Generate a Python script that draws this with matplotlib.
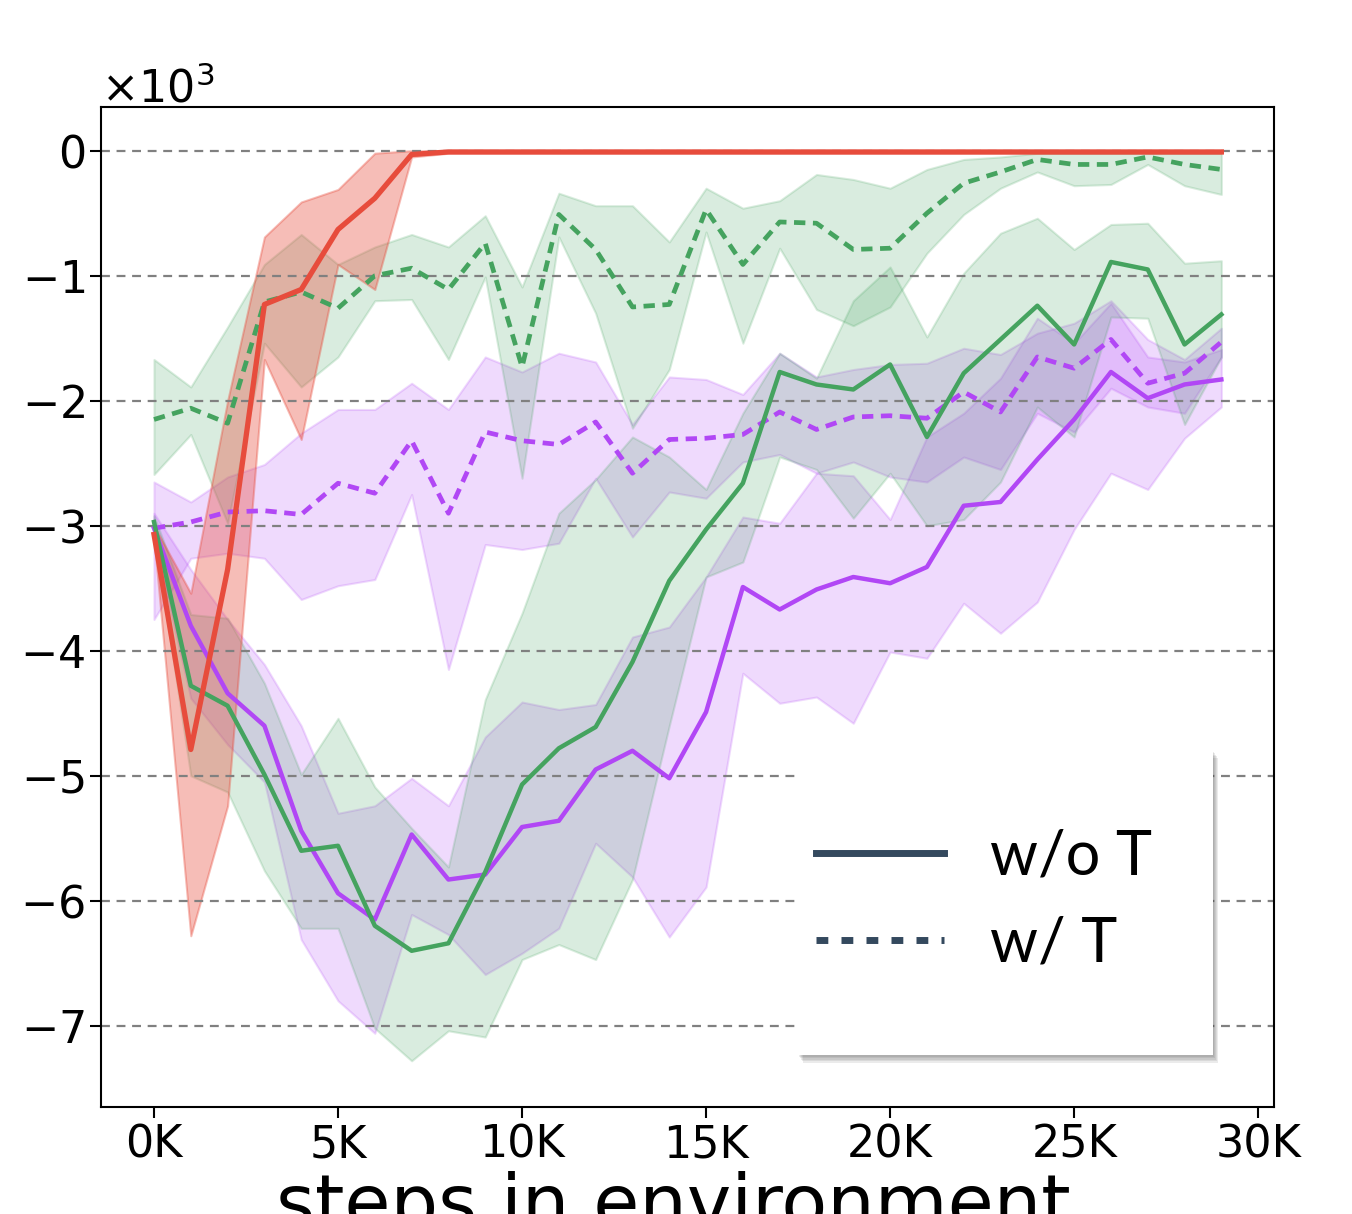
import numpy as np
import matplotlib
matplotlib.use("Agg")
import matplotlib.pyplot as plt
from matplotlib.lines import Line2D
from matplotlib.patches import Rectangle

# x positions in thousands of steps
steps_k = [0, 1, 2, 3, 4, 5, 6, 7, 8, 9, 10, 11, 12, 13, 14, 15, 16, 17, 18, 19,
           20, 21, 22, 23, 24, 25, 26, 27, 28, 29]
xtick_labels = ["0K", "5K", "10K", "15K", "20K", "25K", "30K"]
legend_labels = ["w/o T", "w/ T"]

# all returns below are in units of 1e3
red_wo = [-3.07, -4.79, -3.35, -1.23, -1.11, -0.63, -0.38, -0.03, -0.01, -0.01,
          -0.01, -0.01, -0.01, -0.01, -0.01, -0.01, -0.01, -0.01, -0.01, -0.01,
          -0.01, -0.01, -0.01, -0.01, -0.01, -0.01, -0.01, -0.01, -0.01, -0.01]
red_wo_hi = [-3.00, -3.54, -2.00, -0.69, -0.41, -0.31, -0.02, 0.00, 0.00, 0.00,
             0.00, 0.00, 0.00, 0.00, 0.00, 0.00, 0.00, 0.00, 0.00, 0.00,
             0.00, 0.00, 0.00, 0.00, 0.00, 0.00, 0.00, 0.00, 0.00, 0.00]
red_wo_lo = [-3.10, -6.28, -5.24, -1.67, -2.31, -0.91, -1.11, -0.05, -0.02, -0.02,
             -0.02, -0.02, -0.02, -0.02, -0.02, -0.02, -0.02, -0.02, -0.02, -0.02,
             -0.02, -0.02, -0.02, -0.02, -0.02, -0.02, -0.02, -0.02, -0.02, -0.02]

green_wo = [-2.97, -4.28, -4.44, -4.99, -5.60, -5.56, -6.20, -6.40, -6.34, -5.77,
            -5.07, -4.78, -4.61, -4.09, -3.44, -3.03, -2.66, -1.77, -1.87, -1.91,
            -1.71, -2.29, -1.78, -1.51, -1.24, -1.55, -0.89, -0.95, -1.55, -1.31]
green_wo_hi = [-2.92, -3.71, -3.74, -4.26, -4.99, -4.54, -5.09, -5.42, -5.73, -4.39,
               -3.70, -2.90, -2.63, -2.29, -2.45, -2.71, -2.10, -1.62, -1.82, -1.20,
               -0.93, -1.49, -0.98, -0.66, -0.54, -0.79, -0.59, -0.58, -0.90, -0.88]
green_wo_lo = [-3.05, -5.00, -5.13, -5.76, -6.22, -6.22, -7.02, -7.28, -7.04, -7.09,
               -6.47, -6.35, -6.47, -5.83, -4.60, -3.41, -3.29, -2.45, -2.55, -2.94,
               -2.58, -3.00, -2.95, -2.65, -2.05, -2.29, -1.33, -1.34, -2.19, -1.65]

green_w = [-2.15, -2.06, -2.18, -1.21, -1.13, -1.26, -1.00, -0.94, -1.11, -0.74,
           -1.73, -0.51, -0.79, -1.25, -1.23, -0.47, -0.91, -0.57, -0.58, -0.79,
           -0.78, -0.50, -0.26, -0.17, -0.07, -0.11, -0.11, -0.05, -0.11, -0.15]
green_w_hi = [-1.67, -1.89, -1.41, -0.91, -0.67, -0.91, -0.77, -0.67, -0.77, -0.52,
              -1.09, -0.34, -0.44, -0.44, -0.73, -0.30, -0.46, -0.40, -0.19, -0.23,
              -0.30, -0.15, -0.07, -0.05, -0.02, -0.02, -0.02, -0.02, -0.02, -0.02]
green_w_lo = [-2.59, -2.27, -2.98, -1.54, -1.89, -1.65, -1.20, -1.19, -1.67, -1.01,
              -2.62, -0.69, -1.30, -2.22, -1.75, -0.65, -1.54, -0.78, -1.27, -1.40,
              -1.25, -0.82, -0.51, -0.30, -0.17, -0.28, -0.27, -0.11, -0.28, -0.35]

purple_wo = [-3.02, -3.80, -4.34, -4.60, -5.44, -5.94, -6.15, -5.47, -5.83, -5.79,
             -5.41, -5.36, -4.95, -4.80, -5.02, -4.49, -3.49, -3.67, -3.51, -3.41,
             -3.46, -3.33, -2.84, -2.81, -2.47, -2.15, -1.77, -1.98, -1.87, -1.83]
purple_wo_hi = [-2.90, -3.35, -3.75, -4.11, -4.60, -5.30, -5.24, -5.02, -5.24, -4.69,
                -4.41, -4.47, -4.43, -3.89, -3.81, -3.41, -2.93, -2.98, -2.58, -2.60,
                -2.95, -2.29, -2.10, -1.82, -1.34, -1.54, -1.22, -1.65, -1.69, -1.59]
purple_wo_lo = [-3.10, -4.38, -4.75, -5.05, -6.31, -6.80, -7.06, -6.11, -6.27, -6.59,
                -6.42, -6.22, -5.54, -5.81, -6.29, -5.89, -4.18, -4.42, -4.37, -4.58,
                -4.01, -4.06, -3.62, -3.86, -3.61, -3.03, -2.58, -2.71, -2.30, -2.05]

purple_w = [-3.02, -2.97, -2.89, -2.88, -2.91, -2.66, -2.74, -2.32, -2.90, -2.25,
            -2.32, -2.35, -2.17, -2.58, -2.31, -2.30, -2.27, -2.09, -2.23, -2.13,
            -2.12, -2.14, -1.93, -2.09, -1.65, -1.74, -1.51, -1.86, -1.78, -1.53]
purple_w_hi = [-2.65, -2.81, -2.61, -2.51, -2.26, -2.07, -2.07, -1.86, -2.07, -1.65,
               -1.77, -1.62, -1.69, -2.19, -1.81, -1.83, -1.95, -1.62, -1.81, -1.75,
               -1.71, -1.70, -1.58, -1.63, -1.46, -1.38, -1.20, -1.51, -1.67, -1.42]
purple_w_lo = [-3.75, -3.26, -3.22, -3.26, -3.59, -3.48, -3.43, -2.75, -4.15, -3.15,
               -3.19, -3.14, -2.62, -3.09, -2.73, -2.78, -2.49, -2.43, -2.58, -2.49,
               -2.61, -2.65, -2.45, -2.55, -2.10, -2.25, -1.90, -2.05, -2.10, -1.65]

RED = "#e74c3c"
GREEN = "#45a35f"
PURPLE = "#b147f5"
DARK = "#34495e"

x = np.array(steps_k) * 1000
k = lambda v: np.array(v) * 1000

fig = plt.figure(figsize=(13.52, 12.14), dpi=100)
ax = fig.add_axes([0.0747, 0.0881, 0.8676, 0.8238])

# shaded bands
ax.fill_between(x, k(purple_w_lo), k(purple_w_hi), color=PURPLE, alpha=0.2, lw=1.5, zorder=1)
ax.fill_between(x, k(purple_wo_lo), k(purple_wo_hi), color=PURPLE, alpha=0.2, lw=1.5, zorder=1)
ax.fill_between(x, k(green_w_lo), k(green_w_hi), color=GREEN, alpha=0.2, lw=1.5, zorder=1)
ax.fill_between(x, k(green_wo_lo), k(green_wo_hi), color=GREEN, alpha=0.2, lw=1.5, zorder=1)
ax.fill_between(x, k(red_wo_lo), k(red_wo_hi), color=RED, alpha=0.37, lw=1.5, zorder=1)

# mean curves
dash = (2.4, 1.6)
ax.plot(x, k(purple_w), color=PURPLE, lw=3.4, dashes=dash, zorder=3)
ax.plot(x, k(purple_wo), color=PURPLE, lw=3.2, zorder=3)
ax.plot(x, k(green_w), color=GREEN, lw=3.4, dashes=dash, zorder=3)
ax.plot(x, k(green_wo), color=GREEN, lw=3.2, zorder=3)
ax.plot(x, k(red_wo), color=RED, lw=3.8, zorder=4)

ax.set_xlim(-1440, 30430)
ax.set_ylim(-7650, 350)
ax.set_xticks(np.arange(0, 30001, 5000))
ax.set_xticklabels(xtick_labels)
ax.set_yticks(np.arange(-7000, 1, 1000))
ax.ticklabel_format(axis="y", style="sci", scilimits=(3, 3), useMathText=True)
ax.yaxis.get_offset_text().set_fontsize(32)
ax.tick_params(labelsize=32, length=8, width=1.5)
for s in ax.spines.values():
    s.set_linewidth(1.5)
ax.grid(axis="y", color="#808080", linestyle="--", linewidth=1.6, dashes=(4, 3))

# axis label runs off the bottom edge, as in the original
fig.text(0.498, -0.0115, "steps in environment", fontsize=54,
         ha="center", va="baseline")

# legend box with a soft drop shadow
bx, by, bw, bh = 0.5902, 0.1310, 0.3070, 0.2512
for i, a in enumerate([0.10, 0.10, 0.10, 0.10, 0.10]):
    off = (i + 1) * 1.6
    fig.add_artist(Rectangle((bx + 0.6 * off / 1352, by - off / 1214), bw, bh,
                             transform=fig.transFigure, facecolor="#404040",
                             edgecolor="none", alpha=a, zorder=2.9))
fig.add_artist(Rectangle((bx, by), bw, bh, transform=fig.transFigure,
                         facecolor="white", edgecolor="none", zorder=3))

handles = [Line2D([], [], color=DARK, lw=5),
           Line2D([], [], color=DARK, lw=5, dashes=(1.7, 1.9))]
fig.legend(handles, legend_labels, loc="center left",
           bbox_to_anchor=(0.6036, 0.2582), frameon=False, borderpad=0,
           borderaxespad=0, handlelength=2.1, handletextpad=0.75,
           labelspacing=0.5, prop={"family": "Lato", "size": 44})

fig.savefig("out.png", dpi=100)
